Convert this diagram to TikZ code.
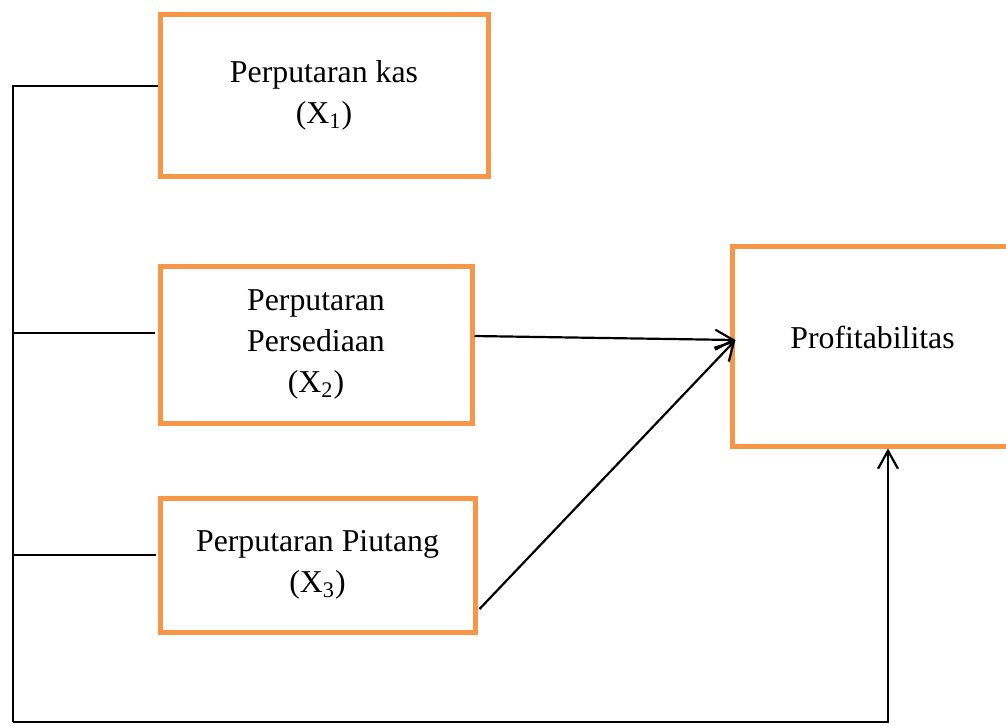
\documentclass[tikz,border=0pt]{standalone}
\usepackage{fontspec}
\setmainfont{Liberation Serif}
\usepackage{xcolor}
\usepackage{tikz}
\usetikzlibrary{arrows.meta, positioning, calc}
\definecolor{boxorange}{HTML}{F79646}

\begin{document}
\begin{tikzpicture}[
			x=0.5pt, y=-0.5pt,
			var/.style={rectangle, draw=boxorange, line width=2.5pt, align=center,
				inner sep=0pt, font=\fontsize{15.9}{20.5}\selectfont},
			conn/.style={draw=black, line width=1.1pt},
			arr/.style={-{Straight Barb[length=9pt, width=10pt]}, draw=black, line width=1.1pt}
			]
			\useasboundingbox (0,0) rectangle (1006,725);
			\node[var, minimum width=164pt, minimum height=81pt] (x1) at (324,95) {Perputaran kas \\ (X\textsubscript{1})};
			\node[var, minimum width=156pt, minimum height=78.5pt, below=42.5pt of x1.south west, anchor=north west] (x2) {Perputaran \\ Persediaan \\ (X\textsubscript{2})};
			\node[var, minimum width=157.5pt, minimum height=67pt, below=35pt of x2.south west, anchor=north west] (x3) {Perputaran Piutang \\ (X\textsubscript{3})};
			\node[var, minimum width=140.5pt, minimum height=100pt, text depth=9pt, right=127.5pt of x2, yshift=-0.75pt] (prof) {Profitabilitas};
			
			\coordinate (bustop) at (13,86);
			\coordinate (busbot) at (13,722);
			\coordinate (x1in) at ([yshift=4.5pt]x1.west);
			\coordinate (x2in) at ([xshift=-1.5pt, yshift=5.75pt]x2.west);
			\coordinate (x3in) at ([xshift=-1pt, yshift=5pt]x3.west);
			\coordinate (x2out) at ([yshift=4.25pt]x2.east);
			\coordinate (x3out) at ([xshift=1pt, yshift=-22pt]x3.east);
			\coordinate (pin) at ([xshift=3pt, yshift=3pt]prof.west);
			
			\draw[conn] (x1in) -- (x1in -| bustop) -- (busbot);
			\draw[conn] (x2in) -- (x2in -| bustop);
			\draw[conn] (x3in) -- (x3in -| bustop);
			\draw[arr] (busbot) -| ([xshift=7.75pt]prof.south);
			
			\draw[arr] (x2out) -- (pin);
			\draw[arr] (x3out) -- (pin);
		\end{tikzpicture}
\end{document}
